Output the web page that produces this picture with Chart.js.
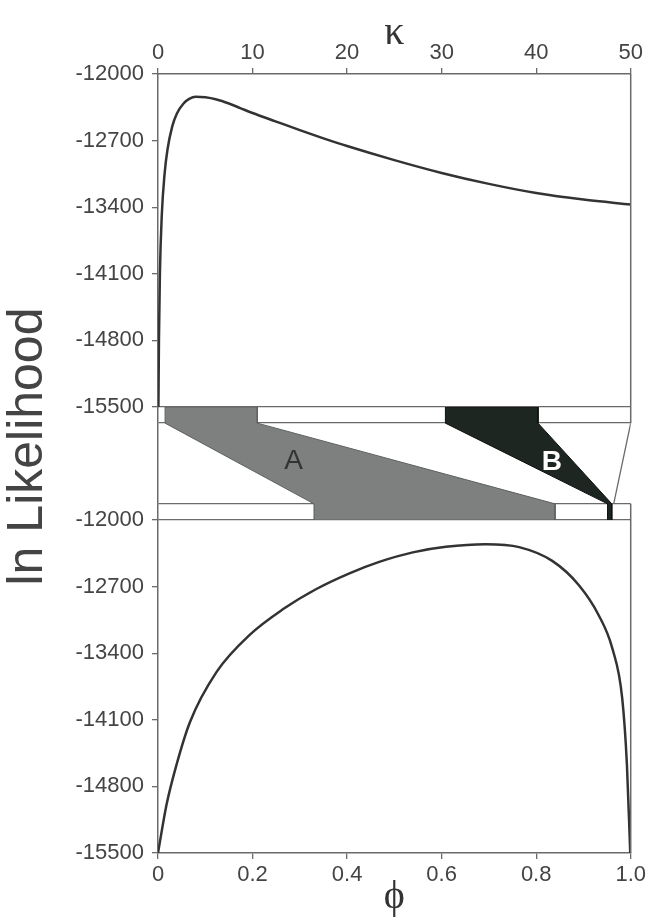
<!DOCTYPE html>
<html>
<head>
<meta charset="utf-8">
<script src="https://cdn.jsdelivr.net/npm/chart.js@4.4.1/dist/chart.umd.min.js"></script>
<style>
  body { margin: 0; background: #fff; }
  canvas { display: block; }
</style>
</head>
<body>
<canvas id="likelihoodChart" width="649" height="921"></canvas>
<script>
// profile over kappa (top panel)
const kappaValues = [0.045, 0.1, 0.2, 0.4, 0.7, 1.0, 1.5, 2.0, 2.7, 3.3, 4.0, 5.0, 6.2, 7.5, 8.7, 10, 12.5, 15, 17.5, 20, 25, 30, 35, 40, 45, 50];
const kappaLnL = [-15500, -14800, -14107, -13483, -13046, -12796, -12553, -12415, -12310, -12262, -12240, -12245, -12268, -12310, -12358, -12410, -12500, -12590, -12676, -12757, -12905, -13040, -13155, -13251, -13320, -13372];

// profile over phi (bottom panel)
const phiValues = [0, 0.018, 0.039, 0.0675, 0.124, 0.194, 0.264, 0.335, 0.405, 0.468, 0.539, 0.609, 0.693, 0.764, 0.834, 0.89, 0.932, 0.961, 0.982, 0.992, 0.999];
const phiLnL = [-15500, -14993, -14575, -14125, -13596, -13207, -12939, -12725, -12560, -12440, -12340, -12282, -12255, -12285, -12430, -12683, -12998, -13347, -13872, -14573, -15500];

const lnTicks = [-15500, -14800, -14100, -13400, -12700, -12000];
const kappaTicks = [0, 10, 20, 30, 40, 50];
const phiTicks = [0, 0.2, 0.4, 0.6, 0.8, 1.0];
const phiTickLabels = ['0', '0.2', '0.4', '0.6', '0.8', '1.0'];

// regions A and B: kappa interval and the phi interval it maps to
const regionNames = ['A', 'B'];
const regionKappa = [[0.75, 10.5], [30.4, 40.2]];
const regionPhi = [[0.33, 0.84], [0.951, 0.960]];
const kappaMaxPhi = 0.964; // kappa = 50 lands here on the phi axis

const KAPPA_MAX = 50;
const PLOT_LEFT = 158;

// middle strip in rows: bottom bar 0-1, gap 1-6, top bar 6-7
const STRIP_EDGES = [0, 1, 6, 7];

const axisGray = '#6a6a6a';
const textGray = '#444';
const sans = "'Liberation Sans', Arial, sans-serif";
const serif = "'Liberation Serif', 'Times New Roman', serif";

const regionFills = ['#7d807e', '#1e2622'];
const regionEdges = ['#5e625f', '#111'];
const regionLabelColors = ['#333', '#fff'];
const regionLabelPhi = [0.287, 0.833];
const regionLabelRow = [3.66, 3.6];

// both horizontal scales cover the same width, so kappa can be put on phi units
const toPhi = k => k / KAPPA_MAX;

function regionShape(i) {
    const [k0, k1] = regionKappa[i];
    const [p0, p1] = regionPhi[i];
    return [
        {x: toPhi(k0), y: 7}, {x: toPhi(k1), y: 7}, {x: toPhi(k1), y: 6},
        {x: p1, y: 1}, {x: p1, y: 0}, {x: p0, y: 0}, {x: p0, y: 1},
        {x: toPhi(k0), y: 6}, {x: toPhi(k0), y: 7}
    ];
}

const tickFont = {family: sans, size: 22};

function lnAxis(weight) {
    return {
        type: 'linear',
        position: 'left',
        stack: 'ln',
        stackWeight: weight,
        min: -15500,
        max: -12000,
        afterBuildTicks: s => { s.ticks = lnTicks.map(v => ({value: v})); },
        afterFit: s => { s.width = PLOT_LEFT; },
        ticks: {font: tickFont, color: textGray, padding: 8, callback: v => String(v)},
        grid: {drawOnChartArea: false, tickLength: 6, color: axisGray, lineWidth: 1.3},
        border: {color: axisGray, width: 1.5}
    };
}

const panelFrame = {
    id: 'panelFrame',
    afterDatasetsDraw(chart) {
        const {ctx, chartArea, scales} = chart;
        const mid = scales.yMid;
        const x = chartArea.right;
        ctx.save();
        ctx.strokeStyle = axisGray;
        ctx.lineWidth = 1.5;
        ctx.beginPath();
        ctx.moveTo(x, scales.yTop.top);
        ctx.lineTo(x, mid.getPixelForValue(6));
        ctx.moveTo(x, mid.getPixelForValue(1));
        ctx.lineTo(x, scales.yBot.bottom);
        ctx.stroke();
        ctx.restore();
    }
};

const regionLabels = {
    id: 'regionLabels',
    afterDatasetsDraw(chart) {
        const {ctx, scales} = chart;
        ctx.save();
        ctx.textAlign = 'center';
        ctx.textBaseline = 'middle';
        regionNames.forEach((name, i) => {
            ctx.fillStyle = regionLabelColors[i];
            ctx.font = (i === 1 ? 'bold ' : '') + '28px ' + sans;
            ctx.fillText(name, scales.phi.getPixelForValue(regionLabelPhi[i]), scales.yMid.getPixelForValue(regionLabelRow[i]));
        });
        ctx.restore();
    }
};

// shared y title, sits a little above the middle of the stack
const sideTitle = {
    id: 'sideTitle',
    afterDraw(chart) {
        const {ctx, chartArea} = chart;
        ctx.save();
        ctx.translate(28, (chartArea.top + chartArea.bottom) / 2 - 17);
        ctx.rotate(-Math.PI / 2);
        ctx.textAlign = 'center';
        ctx.textBaseline = 'middle';
        ctx.fillStyle = textGray;
        ctx.font = '50px ' + sans;
        ctx.fillText('ln Likelihood', 0, 0);
        ctx.restore();
    }
};

const datasets = [
    {
        label: 'kappa',
        data: kappaValues.map((k, i) => ({x: k, y: kappaLnL[i]})),
        xAxisID: 'kappa',
        yAxisID: 'yTop',
        showLine: true,
        borderColor: '#333',
        borderWidth: 2.5,
        pointRadius: 0,
        cubicInterpolationMode: 'monotone'
    },
    {
        label: 'phi',
        data: phiValues.map((p, i) => ({x: p, y: phiLnL[i]})),
        xAxisID: 'phi',
        yAxisID: 'yBot',
        showLine: true,
        borderColor: '#333',
        borderWidth: 2.5,
        pointRadius: 0,
        cubicInterpolationMode: 'monotone'
    }
];

regionNames.forEach((name, i) => {
    datasets.push({
        label: name,
        data: regionShape(i),
        xAxisID: 'phi',
        yAxisID: 'yMid',
        showLine: true,
        fill: 'shape',
        backgroundColor: regionFills[i],
        borderColor: regionEdges[i],
        borderWidth: 1,
        pointRadius: 0
    });
});

datasets.push({
    label: 'kappa max',
    data: [{x: toPhi(KAPPA_MAX), y: 6}, {x: kappaMaxPhi, y: 1}],
    xAxisID: 'phi',
    yAxisID: 'yMid',
    showLine: true,
    borderColor: axisGray,
    borderWidth: 1.3,
    pointRadius: 0
});

new Chart(document.getElementById('likelihoodChart'), {
    type: 'scatter',
    data: {datasets: datasets},
    options: {
        responsive: false,
        animation: false,
        layout: {padding: {left: 0, right: 17, top: 0, bottom: 0}},
        plugins: {
            legend: {display: false},
            tooltip: {enabled: false}
        },
        scales: {
            kappa: {
                type: 'linear',
                position: 'top',
                min: 0,
                max: KAPPA_MAX,
                afterBuildTicks: s => { s.ticks = kappaTicks.map(v => ({value: v})); },
                afterFit: s => { s.height = 74; },
                ticks: {font: tickFont, color: textGray, padding: 2, maxRotation: 0, callback: v => String(v)},
                grid: {drawOnChartArea: false, tickLength: 6, color: axisGray, lineWidth: 1.3},
                border: {color: axisGray, width: 1.5},
                title: {display: true, text: 'κ', color: '#333', font: {family: serif, size: 40}, padding: {top: 9, bottom: 0}}
            },
            phi: {
                type: 'linear',
                position: 'bottom',
                min: 0,
                max: 1,
                afterBuildTicks: s => { s.ticks = phiTicks.map(v => ({value: v})); },
                afterFit: s => { s.height = 68; },
                ticks: {font: tickFont, color: textGray, padding: 3, maxRotation: 0, callback: (v, i) => phiTickLabels[i]},
                grid: {drawOnChartArea: false, tickLength: 6, color: axisGray, lineWidth: 1.3},
                border: {color: axisGray, width: 1.5},
                title: {display: true, text: 'ϕ', color: '#333', font: {family: serif, size: 40}, padding: {top: 0, bottom: 0}}
            },
            yBot: lnAxis(333),
            yMid: {
                type: 'linear',
                position: 'left',
                stack: 'ln',
                stackWeight: 113,
                min: 0,
                max: 7,
                afterBuildTicks: s => { s.ticks = STRIP_EDGES.map(v => ({value: v})); },
                afterFit: s => { s.width = PLOT_LEFT; },
                ticks: {display: false},
                grid: {drawOnChartArea: true, drawTicks: false, color: axisGray, lineWidth: 1.3},
                border: {color: axisGray, width: 1.5}
            },
            yTop: lnAxis(333)
        }
    },
    plugins: [panelFrame, regionLabels, sideTitle]
});
</script>
</body>
</html>
